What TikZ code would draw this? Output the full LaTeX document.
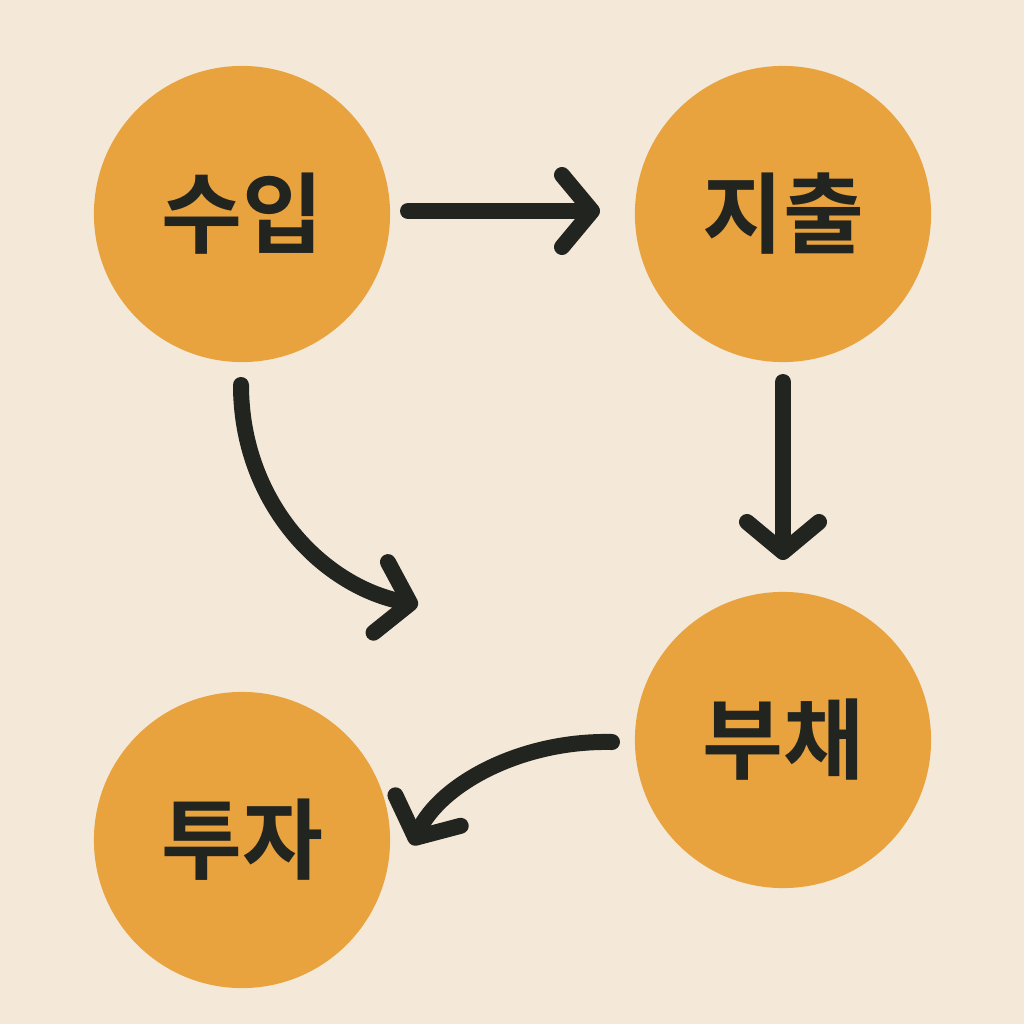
\documentclass[tikz,border=0pt]{standalone}
\usepackage{fontspec}
\newfontfamily\kr{Noto Sans CJK KR}[BoldFont={* Bold}]
\usetikzlibrary{arrows.meta}
\definecolor{bg}{HTML}{F4E9D8}
\definecolor{orb}{HTML}{E8A23E}
\definecolor{ink}{HTML}{222420}
\begin{document}
\begin{tikzpicture}[x=0.01cm,y=-0.01cm,
  orbnode/.style={circle,fill=orb,minimum size=2.96cm,inner sep=0pt,text=ink,font=\kr\bfseries\fontsize{25}{30}\selectfont},
  flow/.style={draw=ink,line width=0.16cm,line cap=round,
    -{Straight Barb[length=0.3cm,width=0.72cm,line cap=round,line join=round]}}]
\fill[bg] (0,0) rectangle (1024,1024);
\node[orbnode] (a) at (242,214) {수입};
\node[orbnode] (b) at (783,214) {지출};
\node[orbnode] (c) at (783,740) {부채};
\node[orbnode] (d) at (242,840) {투자};
\coordinate (a1) at (408,211); \coordinate (a2) at (600,211);
\coordinate (b1) at (241,385); \coordinate (b2) at (418,605);
\coordinate (c1) at (783,382); \coordinate (c2) at (783,560);
\coordinate (d1) at (612,742); \coordinate (d2) at (412,845);
\draw[flow] (a1) -- (a2);
\draw[flow] (b1) .. controls (241,500) and (320,585) .. (b2);
\draw[flow] (c1) -- (c2);
\draw[flow] (d1) .. controls (520,740) and (440,785) .. (d2);
\end{tikzpicture}
\end{document}
